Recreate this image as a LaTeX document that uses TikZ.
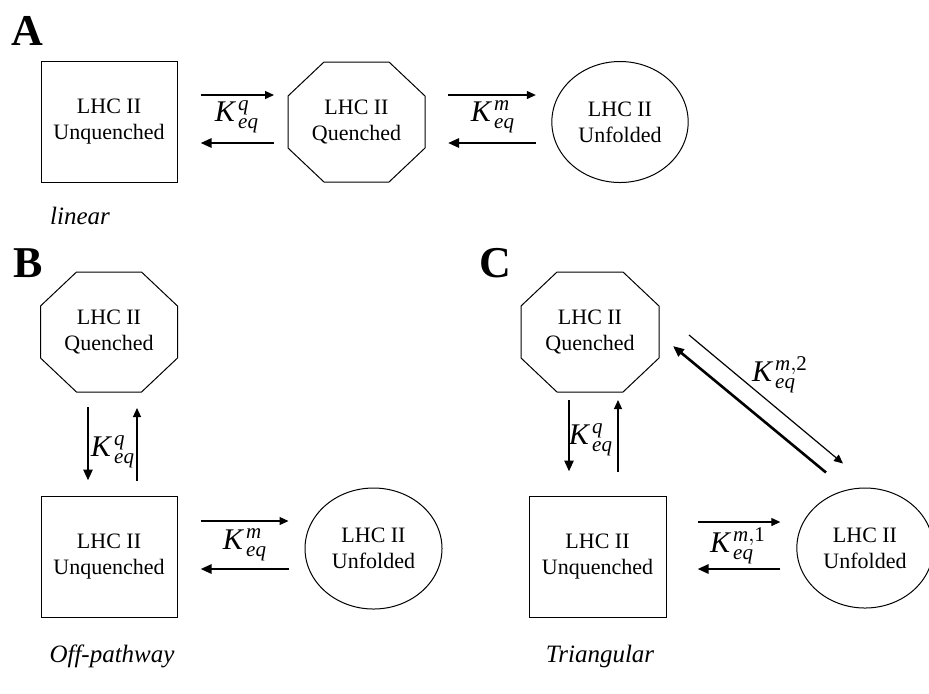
\documentclass[tikz,border=0pt]{standalone}
\usepackage{fontspec}
\setmainfont{Liberation Serif}
\usepackage{tikz}
\usetikzlibrary{shapes,arrows.meta}

\newcommand{\keq}[1]{$\mathit{K}\mkern2mu^{#1}_{\mathit{eq}}$}

\begin{document}
\begin{tikzpicture}[x=0.5pt,y=-0.5pt,
					font=\fontsize{11}{13}\selectfont,
					square/.style={draw, line width=0.5pt, rectangle, align=center, minimum width=68pt, minimum height=60.5pt},
					octo/.style={rectangle, outer sep=0pt, align=center, minimum width=68.5pt, minimum height=60pt},
					oval/.style={draw, line width=0.5pt, ellipse, align=center, minimum width=67pt, minimum height=60.5pt},
					fwd/.style={line width=0.6pt, -{Triangle[length=4.5pt,width=4pt]}},
					bwd/.style={line width=1.3pt, -{Triangle[length=5.5pt,width=4.5pt]}},
					rate/.style={font=\fontsize{15}{18}\selectfont},
					panel/.style={font=\fontsize{22}{26}\selectfont\bfseries},
					kind/.style={font=\fontsize{12.5}{15}\selectfont\itshape}]
    \useasboundingbox (0,0) rectangle (929,693);
    % Panel A
    \node [panel] (lA) at (27,31) {A};
    \node [square] (Aun) at (109,122) {LHC II\\Unquenched};
    \node [octo] (Aq) at (356.5,122) {LHC II\\Quenched};
    \node [oval] (Auf) at (620,122) {LHC II\\Unfolded};
    \node [rate] (kA1) at (237,117) {\keq{\mathit{q}}};
    \node [rate] (kA2) at (493,117) {\keq{\mathit{m}}};
    \node [kind] (tA) at (80,216) {linear};
    \draw[fwd, shorten <=11.5pt, shorten >=7pt] ([yshift=13.5pt]Aun.east) -- ([yshift=13.5pt]Aq.west);
    \draw[bwd, shorten <=7pt, shorten >=11.5pt] ([yshift=-10.5pt]Aq.west) -- ([yshift=-10.5pt]Aun.east);
    \draw[fwd, shorten <=11.5pt, shorten >=7.75pt] ([yshift=13.5pt]Aq.east) -- ([yshift=13.5pt]Auf.west);
    \draw[bwd, shorten <=7.75pt, shorten >=11.5pt] ([yshift=-10.5pt]Auf.west) -- ([yshift=-10.5pt]Aq.east);
    % Panel B
    \node [panel] (lB) at (28,263) {B};
    \node [octo] (Bq) at (109,332) {LHC II\\Quenched};
    \node [square] (Bun) at (109,556.5) {LHC II\\Unquenched};
    \node [oval, minimum width=68.5pt] (Buf) at (373.5,548.5) {LHC II\\Unfolded};
    \node [rate] (kB1) at (113,452) {\keq{\mathit{q}}};
    \node [rate] (kB2) at (245,545) {\keq{\mathit{m}}};
    \node [kind] (tB) at (112,656) {Off-pathway};
    \draw[bwd, shorten <=7.5pt, shorten >=7.5pt] ([xshift=-10.5pt]Bq.south) -- ([xshift=-10.5pt]Bun.north);
    \draw[fwd, shorten <=7.5pt, shorten >=8pt] ([xshift=14pt]Bun.north) -- ([xshift=14pt]Bq.south);
    \draw[fwd, shorten <=11.5pt, shorten >=8pt] ([yshift=17.75pt]Bun.east) -- ([yshift=17.75pt]Bun.east -| Buf.west);
    \draw[bwd, shorten <=8pt, shorten >=11.5pt] ([yshift=-6.25pt]Bun.east -| Buf.west) -- ([yshift=-6.25pt]Bun.east);
    % Panel C
    \node [panel] (lC) at (495,263) {C};
    \node [octo, minimum width=69pt] (Cq) at (590,332) {LHC II\\Quenched};
    \node [square, minimum width=68.5pt] (Cun) at (597.5,556.5) {LHC II\\Unquenched};
    \node [oval, minimum width=63pt, minimum height=60pt] (Cuf) at (865,548) {LHC II\\Unfolded};
    \node [rate] (kC1) at (591,440) {\keq{\mathit{q}}};
    \node [rate] (kC2) at (738,546) {\keq{\mathit{m},\mathrm{1}}};
    \node [rate] (kC3) at (780,375) {\keq{\mathit{m},\mathrm{2}}};
    \node [kind] (tC) at (600,656) {Triangular};
    \draw[bwd, shorten <=4pt, shorten >=12pt] ([xshift=-10.5pt]Cq.south) -- ([xshift=-10.5pt]Cq.south |- Cun.north);
    \draw[fwd, shorten <=12pt, shorten >=4pt] ([xshift=14pt]Cq.south |- Cun.north) -- ([xshift=14pt]Cq.south);
    \draw[fwd, shorten <=15.5pt, shorten >=8pt] ([yshift=17.25pt]Cun.east) -- ([yshift=17.25pt]Cun.east -| Cuf.west);
    \draw[bwd, shorten <=8pt, shorten >=15.5pt] ([yshift=-6.25pt]Cun.east -| Cuf.west) -- ([yshift=-6.25pt]Cun.east);
    \draw[fwd] ([xshift=15pt,yshift=-1.5pt]Cq.east) -- ([xshift=-11pt,yshift=12pt]Cuf.north);
    \draw[bwd] ([xshift=-19.5pt,yshift=7.5pt]Cuf.north) -- ([xshift=7pt,yshift=-7pt]Cq.east);
    % Octagon outlines
    \foreach \n in {Aq,Bq,Cq}
    	\draw[line width=0.5pt] ([xshift=18pt]\n.north west) -- ([xshift=-18pt]\n.north east)
    		-- ([yshift=-17pt]\n.north east) -- ([yshift=17pt]\n.south east)
    		-- ([xshift=-18pt]\n.south east) -- ([xshift=18pt]\n.south west)
    		-- ([yshift=17pt]\n.south west) -- ([yshift=-17pt]\n.north west) -- cycle;
\end{tikzpicture}
\end{document}
